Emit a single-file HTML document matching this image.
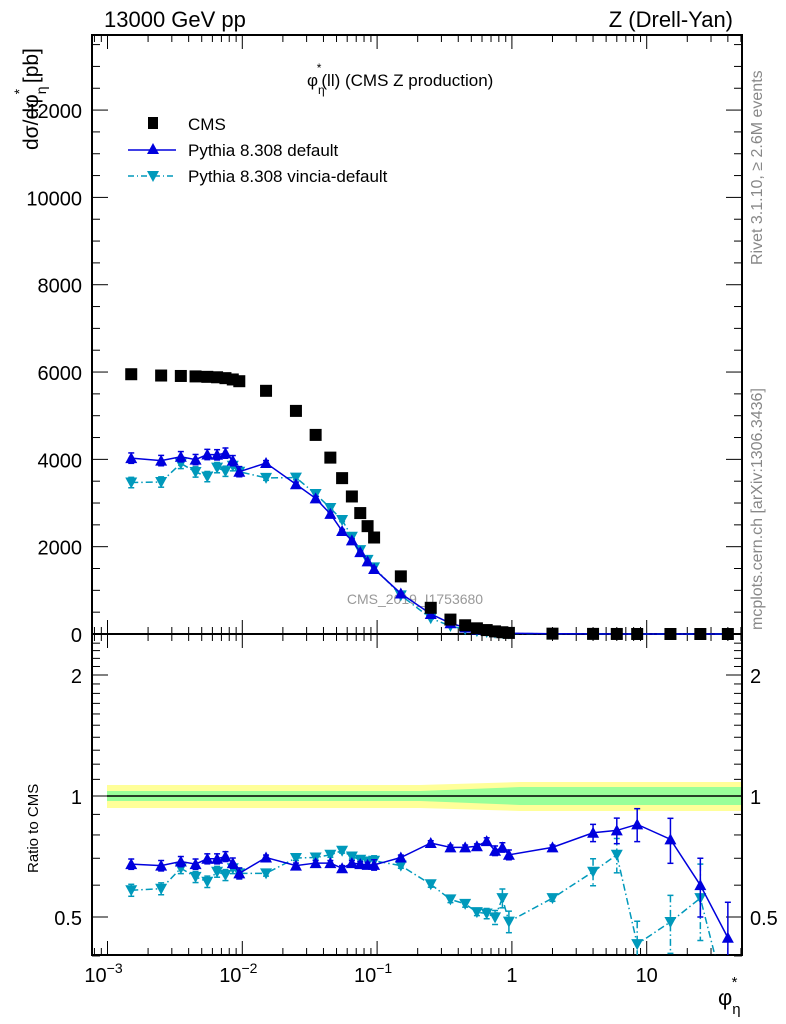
<!DOCTYPE html>
<html><head><meta charset="utf-8"><style>
html,body{margin:0;padding:0;background:#fff;width:786px;height:1024px;overflow:hidden;}
svg{display:block;font-family:"Liberation Sans",sans-serif;}
</style></head><body>
<svg id="chart" width="786" height="1024" viewBox="0 0 786 1024"></svg>
<script>
const xs=[0.0015,0.0025,0.0035,0.0045,0.0055,0.0065,0.0075,0.0085,0.0095,0.015,0.025,0.035,0.045,0.055,0.065,0.075,0.085,0.095,0.15,0.25,0.35,0.45,0.55,0.65,0.75,0.85,0.95,2,4,6,8.5,15,25,40];
const cmsVals=[5950,5920,5910,5900,5890,5880,5860,5830,5790,5570,5110,4560,4040,3570,3150,2770,2470,2210,1320,600,330,200,130,90,60,40,25,8,3,1,0.5,0.2,0.1,0.05];
const ratioDefault=[0.677,0.671,0.687,0.677,0.698,0.698,0.707,0.681,0.642,0.703,0.671,0.681,0.681,0.661,0.681,0.677,0.674,0.674,0.703,0.764,0.745,0.745,0.75,0.772,0.731,0.745,0.714,0.745,0.81,0.821,0.85,0.78,0.6,0.444];
const ratioVincia=[0.583,0.588,0.661,0.629,0.612,0.648,0.636,0.661,0.642,0.642,0.701,0.703,0.714,0.731,0.707,0.694,0.687,0.69,0.671,0.603,0.553,0.539,0.514,0.51,0.499,0.557,0.487,0.557,0.648,0.714,0.428,0.486,0.557,0.3];
const errDefault=[0.02,0.02,0.02,0.02,0.02,0.02,0.02,0.02,0.02,0.01,0.01,0.01,0.01,0.01,0.01,0.01,0.01,0.02,0.01,0.01,0.01,0.01,0.01,0.015,0.02,0.02,0.02,0.01,0.04,0.06,0.08,0.1,0.1,0.1];
const errVincia=[0.02,0.02,0.02,0.02,0.02,0.02,0.02,0.02,0.02,0.01,0.01,0.01,0.01,0.01,0.01,0.01,0.01,0.02,0.01,0.01,0.01,0.01,0.01,0.015,0.02,0.03,0.03,0.01,0.05,0.07,0.06,0.08,0.12,0.1];
const yTicksMain=[0,2000,4000,6000,8000,10000,12000];
const xTickLabels=[["10","−3",-3],["10","−2",-2],["10","−1",-1],["1","",0],["10","",1]];

const NS="http://www.w3.org/2000/svg";
const svg=document.getElementById('chart');
function el(t,a,p){const e=document.createElementNS(NS,t);for(const k in a)e.setAttribute(k,a[k]);(p||svg).appendChild(e);return e;}
const L=92,R=742,T=35,MB=634,RB=955;
const X=v=>107.5+(Math.log10(v)+3)*134.8;
const Y=v=>MB-v*0.04366;
const YR=r=>796-121*Math.log2(r);

const band=el('g',{});


el('polygon',{points:`${L+15},785 420,785 520,782 ${R},782 ${R},811 520,811 420,808 ${L+15},808`,fill:'#ffff99'},band);
el('polygon',{points:`${L+15},791 420,791 520,787 ${R},787 ${R},805 520,805 420,801 ${L+15},801`,fill:'#99ff99'},band);
el('line',{x1:L+15,x2:R,y1:796,y2:796,stroke:'#000','stroke-width':1.5},band);

const fm=el('rect',{x:L,y:T,width:R-L,height:MB-T,fill:'none',stroke:'#000','stroke-width':2});

const fr=el('rect',{x:L,y:MB,width:R-L,height:RB-MB,fill:'none',stroke:'#000','stroke-width':2});


const ax=el('g',{stroke:'#000','stroke-width':1});

for(let d=-4;d<=1;d++)for(let m=1;m<10;m++){const v=m*Math.pow(10,d);const x=X(v);if(x<L||x>R)continue;const len=m==1?14:7;
 [[T,1],[MB,-1],[MB,1],[RB,-1]].forEach(([y0,s])=>el('line',{x1:x,x2:x,y1:y0,y2:y0+s*len},ax));}
for(let v=0;v<=13500;v+=500){const y=Y(v);if(y<T)continue;const len=v%2000==0?16:8;el('line',{x1:L,x2:L+len,y1:y,y2:y},ax);el('line',{x1:R,x2:R-len,y1:y,y2:y},ax);}
[0.5,0.6,0.7,0.8,0.9,1,2].forEach(v=>{const y=YR(v);const len=(v==0.5||v==1||v==2)?16:8;el('line',{x1:L,x2:L+len,y1:y,y2:y},ax);el('line',{x1:R,x2:R-len,y1:y,y2:y},ax);});
for(let v=1.1;v<2.5;v+=0.1){if(Math.abs(v-2)<0.01)continue;const y=YR(v);if(y<MB)continue;el('line',{x1:L,x2:L+8,y1:y,y2:y},ax);el('line',{x1:R,x2:R-8,y1:y,y2:y},ax);}
el('line',{x1:L,x2:L+8,y1:YR(0.4),y2:YR(0.4)},ax);el('line',{x1:R,x2:R-8,y1:YR(0.4),y2:YR(0.4)},ax);

function text(s,a,name){const t=el('text',a);t.textContent=s;return t;}
yTicksMain.forEach(v=>text(String(v),{x:82,y:Y(v)+8,'font-size':20,'text-anchor':'end'},'y-tick-label'));
[[2,'2'],[1,'1'],[0.5,'0.5']].forEach(([v,s])=>{text(s,{x:82,y:YR(v)+8,'font-size':20,'text-anchor':'end'},'ratio-tick-label');text(s,{x:750,y:YR(v)+8,'font-size':20},'ratio-tick-label-right');});
xTickLabels.forEach(([b,e,p])=>{const x=X(Math.pow(10,p));const t=text('',{x:x+(e?-4:0),y:982,'font-size':20,'text-anchor':'middle'},'x-tick-label');t.textContent=b;if(e){const s=el('tspan',{dy:-9,'font-size':14},t);s.textContent=e;}});

text('13000 GeV pp',{x:104,y:27,'font-size':22},'energy-label');
text('Z (Drell-Yan)',{x:733,y:27,'font-size':22,'text-anchor':'end'},'process-label');
const pt=text('',{x:307,y:86,'font-size':17},'plot-title');
pt.innerHTML='φ<tspan dy="8" font-size="12">η</tspan><tspan dy="-22" dx="-8" font-size="12">*</tspan><tspan dy="14">(ll) (CMS Z production)</tspan>';
const yt=text('',{transform:'translate(38,150) rotate(-90)','font-size':21},'y-axis-title');
yt.innerHTML='dσ/dφ<tspan dy="8" font-size="14">η</tspan><tspan dy="-22" dx="-8" font-size="14">*</tspan><tspan dy="14"> [pb]</tspan>';
text('Ratio to CMS',{transform:'translate(38,873) rotate(-90)','font-size':15},'ratio-axis-title');
const xt=text('',{x:718,y:1005,'font-size':22},'x-axis-title');
xt.innerHTML='φ<tspan dy="9" font-size="15">η</tspan><tspan dy="-27" dx="-9" font-size="15">*</tspan>';
text('Rivet 3.1.10, ≥ 2.6M events',{transform:'translate(762,265) rotate(-90)','font-size':16,fill:'#888'},'rivet-label');
text('mcplots.cern.ch [arXiv:1306.3436]',{transform:'translate(762,630) rotate(-90)','font-size':16,fill:'#888'},'mcplots-label');
text('CMS_2019_I1753680',{x:415,y:604,'font-size':14,fill:'#999','text-anchor':'middle'},'analysis-watermark');

const lg=el('g',{});
el('rect',{x:148,y:117,width:10,height:12,fill:'#000'},lg);
text('CMS',{x:188,y:130,'font-size':17},'legend-entry-cms');
el('line',{x1:128,x2:176,y1:150,y2:150,stroke:'#0000dd','stroke-width':1.5},lg);
el('polygon',{points:'153,143 147,154 159,154',fill:'#0000dd'},lg);
text('Pythia 8.308 default',{x:188,y:156,'font-size':17},'legend-entry-default');
el('line',{x1:128,x2:176,y1:176,y2:176,stroke:'#0099bb','stroke-width':1.5,'stroke-dasharray':'6,3,1,3'},lg);
el('polygon',{points:'147,171 159,171 153,182',fill:'#0099bb'},lg);
text('Pythia 8.308 vincia-default',{x:188,y:182,'font-size':17},'legend-entry-vincia');

function series(name,ratios,errs,color,dash,down){
 const g=el('g',{});
 const mainPts=xs.map((x,i)=>[X(x),Y(cmsVals[i]*ratios[i])]);
 const ratPts=xs.map((x,i)=>[X(x),YR(ratios[i])]);
 const da=dash?{'stroke-dasharray':'7,3,1.5,3'}:{};
 el('polyline',Object.assign({points:mainPts.map(p=>p.join(',')).join(' '),fill:'none',stroke:color,'stroke-width':1.5},da),g);
 const rg=el('g',{'clip-path':'url(#ratioclip)'},g);
 el('polyline',Object.assign({points:ratPts.map(p=>p.join(',')).join(' '),fill:'none',stroke:color,'stroke-width':1.5},da),rg);
 xs.forEach((x,i)=>{
  const px=X(x);
  [[Y(cmsVals[i]*ratios[i]),Y(cmsVals[i]*(ratios[i]+errs[i])),Y(cmsVals[i]*(ratios[i]-errs[i])),g],[YR(ratios[i]),YR(ratios[i]+errs[i]),YR(Math.max(0.05,ratios[i]-errs[i])),rg]].forEach(([py,yt,yb,par])=>{
   el('line',Object.assign({x1:px,x2:px,y1:yt,y2:yb,stroke:color,'stroke-width':1.5},da),par);
   el('line',{x1:px-3,x2:px+3,y1:yt,y2:yt,stroke:color,'stroke-width':1.5},par);
   el('line',{x1:px-3,x2:px+3,y1:yb,y2:yb,stroke:color,'stroke-width':1.5},par);
   const m=el('polygon',{points:down?`${px-6},${py-5} ${px+6},${py-5} ${px},${py+6}`:`${px},${py-6} ${px-6},${py+5} ${px+6},${py+5}`,fill:color},par);
   
   
  });
 });
}
const defs=el('defs',{});
const cp=el('clipPath',{id:'ratioclip'},defs);el('rect',{x:L,y:MB,width:R-L,height:RB-MB},cp);
series('pythia-vincia',ratioVincia,errVincia,'#0099bb',true,true);
series('pythia-default',ratioDefault,errDefault,'#0000dd',false,false);
const cg=el('g',{});
xs.forEach((x,i)=>{const r=el('rect',{x:X(x)-6,y:Y(cmsVals[i])-6,width:12,height:12,fill:'#000'},cg);
 
 });
</script>
</body></html>
